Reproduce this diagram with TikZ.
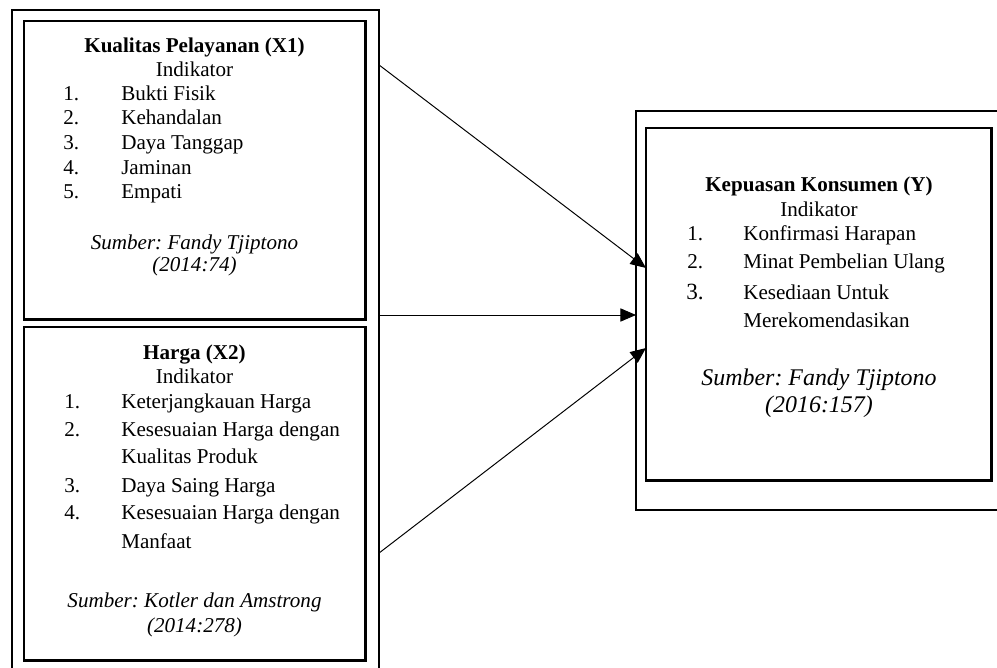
\documentclass[tikz,border=0pt]{standalone}
\usepackage{fontspec}
\setmainfont{Liberation Serif}
\usepackage{tikz}
\usetikzlibrary{arrows.meta, positioning, calc}
\frenchspacing
\tikzset{
  luar/.style={rectangle, draw=black, line width=1.5pt, anchor=north west,
    inner sep=0pt, outer sep=0pt},
  dalam/.style={rectangle, draw=black, line width=2.1pt, anchor=north west,
    inner sep=0pt, outer sep=0pt},
  teks/.style={font=\fontsize{15}{18}\selectfont, anchor=base, inner sep=0pt},
  judul/.style={teks, font=\fontsize{15}{18}\selectfont\bfseries},
  butir/.style={teks, anchor=base west},
  sumber/.style={teks, font=\fontsize{15}{18}\selectfont\itshape},
  panah/.style={-{Triangle[length=3.9mm, width=3.3mm]}, line width=0.7pt}
}

\begin{document}
\begin{tikzpicture}[x=0.025cm, y=-0.025cm]
  \useasboundingbox (0,0) rectangle (997,668);
  \clip (0,0) rectangle (997,668);

  % kotak-kotak
  \node[luar, minimum width=9.175cm, minimum height=17.25cm] (luarX) at (12,10) {};
  \node[dalam, minimum width=8.525cm, minimum height=7.45cm] (dalamX1) at (24,21) {};
  \node[dalam, minimum width=8.525cm, minimum height=8.325cm] (dalamX2) at (24,327) {};
  \node[luar, minimum width=9.35cm, minimum height=9.975cm] (luarY) at (636,111) {};
  \node[dalam, minimum width=8.625cm, minimum height=8.8cm] (dalamY) at (646,128) {};

  % Kualitas Pelayanan (X1)
  \node[judul] (judulX1) at (194.5,53) {Kualitas Pelayanan (X1)};
  \node[teks] (indX1) at (194.5,77) {Indikator};
  \foreach \y/\no/\isi [count=\i] in {101/1./Bukti Fisik, 125/2./Kehandalan,
      150/3./Daya Tanggap, 175/4./Jaminan, 199/5./Empati} {
    \node[butir] (noX1\i) at (63,\y) {\no};
    \node[butir] (isiX1\i) at (121,\y) {\isi};
  }
  \node[sumber] (sbX1a) at (194.5,250) {Sumber: Fandy Tjiptono};
  \node[sumber] (sbX1b) at (194.5,272) {(2014:74)};

  % Harga (X2)
  \node[judul] (judulX2) at (194.5,359) {Harga (X2)};
  \node[teks] (indX2) at (194.5,383) {Indikator};
  \foreach \y/\no/\isi [count=\i] in {408/1./Keterjangkauan Harga,
      436/2./Kesesuaian Harga dengan, 463//Kualitas Produk,
      492/3./Daya Saing Harga, 519/4./Kesesuaian Harga dengan, 548//Manfaat} {
    \node[butir] (noX2\i) at (64,\y) {\no};
    \node[butir] (isiX2\i) at (121,\y) {\isi};
  }
  \node[sumber] (sbX2a) at (194.5,607) {Sumber: Kotler dan Amstrong};
  \node[sumber] (sbX2b) at (194.5,632) {(2014:278)};

  % Kepuasan Konsumen (Y)
  \node[judul] (judulY) at (819,192) {Kepuasan Konsumen (Y)};
  \node[teks] (indY) at (819,217) {Indikator};
  \foreach \y/\no/\isi [count=\i] in {241/1./Konfirmasi Harapan,
      269/2./Minat Pembelian Ulang, 300//Kesediaan Untuk, 327//Merekomendasikan} {
    \node[butir] (noY\i) at (687,\y) {\no};
    \node[butir] (isiY\i) at (743,\y) {\isi};
  }
  \node[butir, font=\fontsize{16.5}{18}\selectfont] (noY3b) at (686,300) {3.};
  \node[sumber, font=\fontsize{17}{20}\selectfont\itshape] (sbYa) at (819,385) {Sumber: Fandy Tjiptono};
  \node[sumber, font=\fontsize{17}{20}\selectfont\itshape] (sbYb) at (819,412) {(2016:157)};

  % panah
  \draw[panah] ($(luarX.north east)+(0,55)$) -- ($(dalamY.north west)+(0,140)$);
  \draw[panah] ($(luarX.north east)+(0,305)$) -- ($(luarY.north west)+(0,204)$);
  \draw[panah] ($(luarX.north east)+(0,543)$) -- ($(dalamY.north west)+(0,220)$);
\end{tikzpicture}
\end{document}
